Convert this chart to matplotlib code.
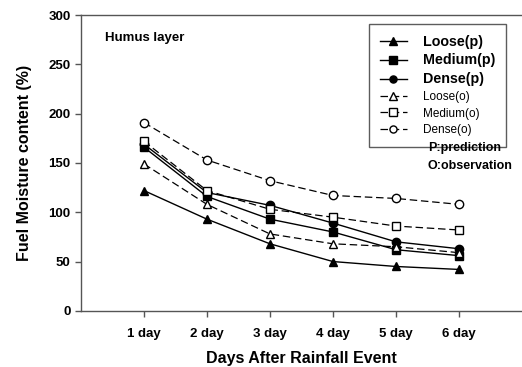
import matplotlib
matplotlib.use("Agg")
import matplotlib.pyplot as plt

plt.rcParams['font.family'] = ['Liberation Sans', 'DejaVu Sans']

days = ["1 day", "2 day", "3 day", "4 day", "5 day", "6 day"]
x = [1, 2, 3, 4, 5, 6]

loose_p = [122, 93, 68, 50, 45, 42]
medium_p = [166, 116, 93, 80, 62, 56]
dense_p = [169, 120, 107, 89, 70, 63]
loose_o = [149, 108, 78, 68, 65, 59]
medium_o = [172, 122, 103, 95, 86, 82]
dense_o = [191, 153, 132, 117, 114, 108]

fig = plt.figure(figsize=(5.22, 3.67), dpi=100)
ax = fig.add_axes([0.155, 0.153, 0.845, 0.806])

kw_p = dict(color="black", lw=1.0, ms=6)
kw_o = dict(color="black", lw=0.9, ms=6, ls=(0, (6, 3)), mfc="white")

ax.plot(x, loose_p, marker="^", label="Loose(p)", **kw_p)
ax.plot(x, medium_p, marker="s", label="Medium(p)", **kw_p)
ax.plot(x, dense_p, marker="o", label="Dense(p)", **kw_p)
ax.plot(x, loose_o, marker="^", label="Loose(o)", **kw_o)
ax.plot(x, medium_o, marker="s", label="Medium(o)", **kw_o)
ax.plot(x, dense_o, marker="o", label="Dense(o)", **kw_o)

ax.set_xlim(0, 7)
ax.set_ylim(0, 300)
ax.set_xticks(x)
ax.set_xticklabels(days)
ax.set_yticks(range(0, 301, 50))
for sp in ["left", "bottom", "top"]:
    ax.spines[sp].set_color("#555555")
    ax.spines[sp].set_linewidth(1.0)
ax.spines["right"].set_visible(False)
ax.tick_params(direction="out", length=4, color="#555555", width=1.0, labelsize=9.5)
ax.tick_params(axis="x", pad=8)
for t in ax.get_xticklabels() + ax.get_yticklabels():
    t.set_fontweight("bold")

ax.set_xlabel("Days After Rainfall Event", fontsize=11.5, fontweight="bold", labelpad=8)
ax.set_ylabel("Fuel Moisture content (%)", fontsize=11.5, fontweight="bold", labelpad=12)

ax.text(0.055, 0.922, "Humus layer", transform=ax.transAxes, fontsize=9.5,
        fontweight="bold", va="center")

leg = ax.legend(loc="upper left", bbox_to_anchor=(369 / 522, 1 - 24 / 367),
                bbox_transform=fig.transFigure, borderaxespad=0, frameon=True,
                fancybox=False, edgecolor="#333333", handlelength=2.3,
                borderpad=0.9, labelspacing=0.4, handletextpad=1.4, fontsize=8.5,
                markerscale=0.85)
leg.get_frame().set_linewidth(1.0)
for i, t in enumerate(leg.get_texts()):
    if i < 3:
        t.set_fontweight("bold")
        t.set_fontsize(10.3)

fig.text(428 / 522, 1 - 148 / 367, "P:prediction", fontsize=9, fontweight="bold", va="center")
fig.text(428 / 522, 1 - 166 / 367, "O:observation", fontsize=9, fontweight="bold", va="center")

fig.savefig("out.png", dpi=100)
